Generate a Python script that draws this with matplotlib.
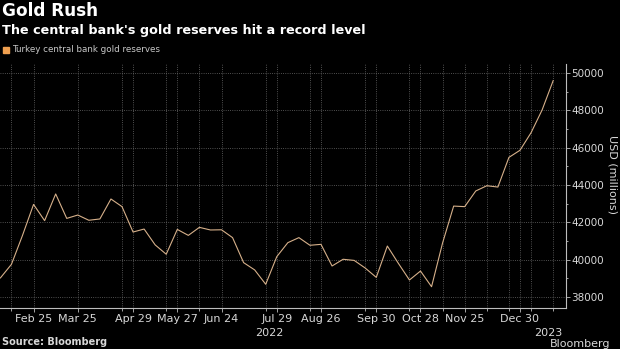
import pandas as pd
import numpy as np
import matplotlib
matplotlib.use('Agg')
import matplotlib.pyplot as plt
import matplotlib.dates as mdates

# weekly reserves, USD millions (Fridays, Feb 4 2022 - Jan 20 2023)
dates = pd.date_range('2022-02-04', '2023-01-20', freq='W-FRI')
reserves = [39020, 39750, 41300, 42960, 42090, 43520, 42210, 42390, 42110, 42180,
            43250, 42840, 41480, 41640, 40790, 40290, 41620, 41300, 41730, 41590,
            41600, 41180, 39840, 39450, 38680, 40160, 40910, 41180, 40770, 40820,
            39660, 40020, 39960, 39550, 39050, 40730, 39800, 38910, 39390, 38550,
            40900, 42870, 42840, 43680, 43960, 43890, 45480, 45860, 46800, 48020,
            49590]

tick_dates = ['2022-02-25', '2022-03-25', '2022-04-29', '2022-05-27', '2022-06-24',
              '2022-07-29', '2022-08-26', '2022-09-30', '2022-10-28', '2022-11-25',
              '2022-12-30']
tick_labels = ['Feb 25', 'Mar 25', 'Apr 29', 'May 27', 'Jun 24', 'Jul 29',
               'Aug 26', 'Sep 30', 'Oct 28', 'Nov 25', 'Dec 30']
grid_dates = ['2022-02-11', '2022-04-22', '2022-05-20', '2022-06-10', '2022-07-22',
              '2022-08-19', '2022-09-23', '2022-10-21', '2022-11-11', '2022-12-09',
              '2022-12-23', '2023-01-06', '2023-01-20']
y_ticks = [38000, 40000, 42000, 44000, 46000, 48000, 50000]

bg = 'black'
txt = '#d8d8d8'
line_col = '#d6b08a'
legend_col = '#f0a050'

fig = plt.figure(figsize=(6.2, 3.49), dpi=100, facecolor=bg)
ax = fig.add_axes([0.0, 0.1175, 0.913, 0.699], facecolor=bg)

ax.plot(dates, reserves, color=line_col, linewidth=0.8)

ax.set_xlim(pd.Timestamp('2022-02-03 18:00'), pd.Timestamp('2023-01-28 04:00'))
ax.set_ylim(37410, 50480)

major = [mdates.date2num(pd.Timestamp(d)) for d in tick_dates]
minor = [mdates.date2num(pd.Timestamp(d)) for d in grid_dates]
ax.set_xticks(major)
ax.set_xticklabels(tick_labels)
ax.set_xticks(minor, minor=True)

ax.yaxis.tick_right()
ax.set_yticks(y_ticks)
ax.set_yticklabels([str(v) for v in y_ticks])
ax.set_yticks(np.arange(38000, 50001, 1000), minor=True)

ax.grid(True, which='both', axis='x', color='#6a6a6a', linestyle=':', linewidth=0.6)
ax.grid(True, which='major', axis='y', color='#6a6a6a', linestyle=':', linewidth=0.6)

for s in ['top', 'left']:
    ax.spines[s].set_visible(False)
for s in ['right', 'bottom']:
    ax.spines[s].set_color('#bdbdbd')
    ax.spines[s].set_linewidth(0.8)

ax.tick_params(axis='x', which='major', colors='#bdbdbd', labelcolor=txt,
               labelsize=8, length=3, width=0.6, pad=1)
ax.tick_params(axis='x', which='minor', colors='#bdbdbd', length=2, width=0.6)
ax.tick_params(axis='y', which='major', colors='#bdbdbd', labelcolor=txt,
               labelsize=7.5, length=3, width=0.6, pad=1)
ax.tick_params(axis='y', which='minor', colors='#bdbdbd', length=1.5, width=0.6)

# axis title on the right
fig.text(0.988, 0.50, 'USD (millions)', color=txt, fontsize=8, rotation=270,
         ha='center', va='center')

# year labels
ax.text(mdates.date2num(pd.Timestamp('2022-07-24')), -0.08, '2022', color=txt, fontsize=8,
        ha='center', va='top', transform=ax.get_xaxis_transform())
ax.text(mdates.date2num(pd.Timestamp('2023-01-17')), -0.08, '2023', color=txt, fontsize=8,
        ha='center', va='top', transform=ax.get_xaxis_transform())

# titles and legend
fig.text(0.004, 0.995, 'Gold Rush', color='white', fontsize=12.2, fontweight='bold',
         ha='left', va='top')
fig.text(0.004, 0.932, "The central bank's gold reserves hit a record level", color='white',
         fontsize=9.2, fontweight='bold', ha='left', va='top')
fig.patches.append(plt.Rectangle((0.005, 0.848), 0.0095, 0.017, transform=fig.transFigure,
                                 color=legend_col))
fig.text(0.019, 0.857, 'Turkey central bank gold reserves', color='#c8c8c8', fontsize=6.3,
         ha='left', va='center')

fig.text(0.004, 0.005, 'Source: Bloomberg', color=txt, fontsize=7, fontweight='bold',
         ha='left', va='bottom')
fig.text(0.985, 0.0, 'Bloomberg', color=txt, fontsize=8, ha='right', va='bottom')

fig.savefig('out.png', dpi=100, facecolor=bg)
